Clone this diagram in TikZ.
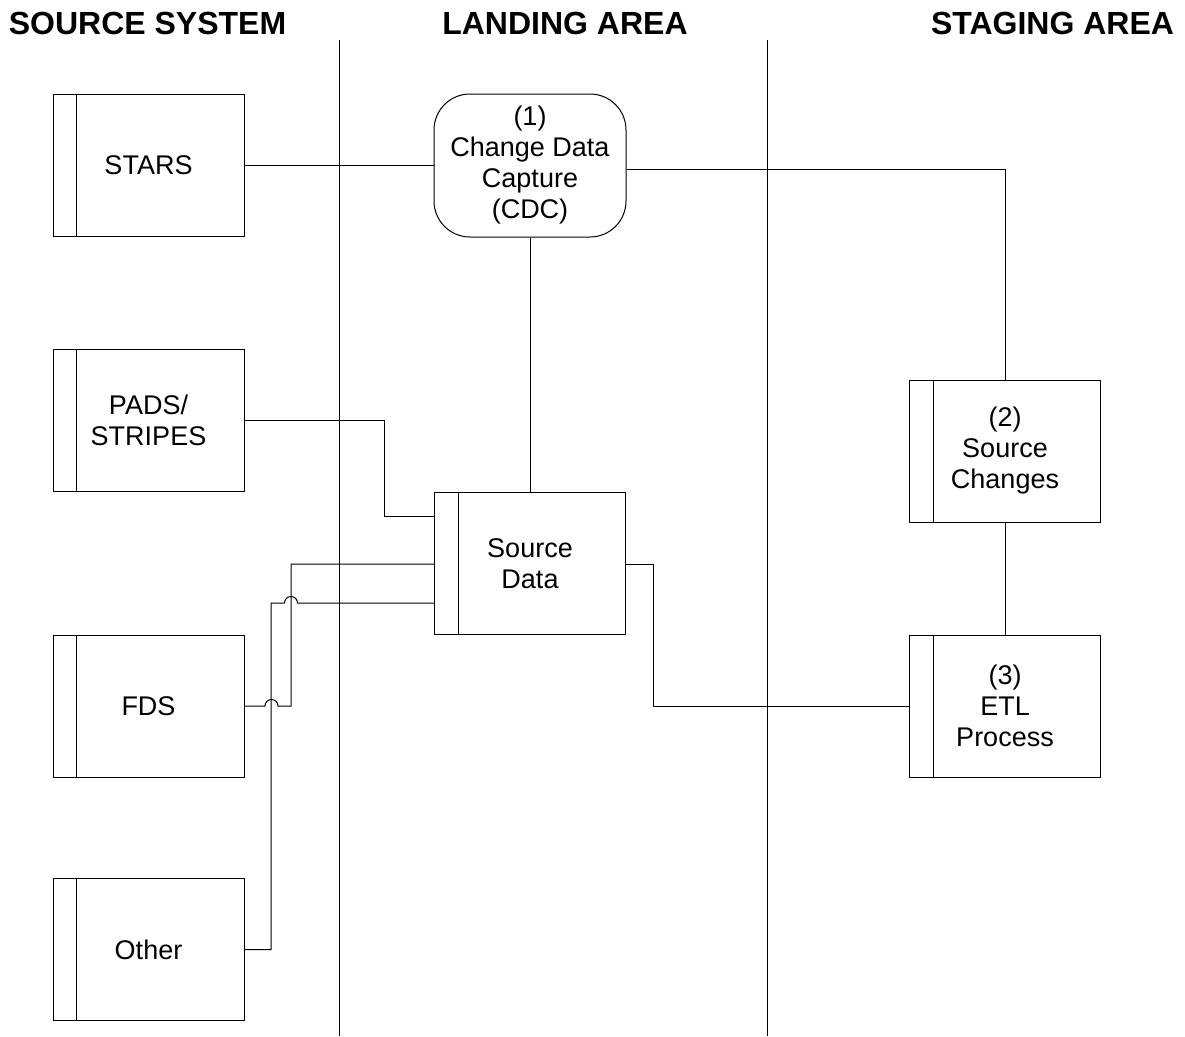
\documentclass[tikz,border=0pt]{standalone}
\usepackage{fontspec}
\setmainfont{Liberation Sans}
\begin{document}
\begin{tikzpicture}[x=1pt,y=-1pt,line width=1pt,
  lbl/.style={font=\fontsize{27}{31}\selectfont, align=center},
  proc/.style={lbl, draw, minimum width=191pt, minimum height=142pt, inner sep=0pt,
    path picture={\draw[line width=1pt] ([xshift=23.5pt]path picture bounding box.north west) -- ([xshift=23.5pt]path picture bounding box.south west);}},
  cdcbox/.style={lbl, draw, rounded corners=36pt, minimum width=192pt, minimum height=143pt, inner sep=0pt},
  hdr/.style={font=\fontsize{32}{36}\bfseries\selectfont, inner sep=0pt},
  conn/.style={line width=1pt}]
\path[use as bounding box] (0,0) rectangle (1185,1036);
% headers
\node[hdr] (h1) at (147.5,23) {SOURCE SYSTEM};
\node[hdr] (h2) at (565,23) {LANDING AREA};
\node[hdr] (h3) at (1052.5,23) {STAGING AREA};
% lane lines
\coordinate (l1t) at (339,40); \coordinate (l1b) at (339,1036);
\coordinate (l2t) at (767,40); \coordinate (l2b) at (767,1036);
\draw[conn] (l1t) -- (l1b);
\draw[conn] (l2t) -- (l2b);
% nodes
\node[proc] (stars) at (148.5,165.5) {STARS};
\node[proc] (pads) at (148.5,420.5) {PADS/\\STRIPES};
\node[proc] (fds) at (148.5,706) {FDS};
\node[proc] (other) at (148.5,949.5) {Other};
\node[cdcbox] (cdc) at (530,165.5) {(1)\\Change Data\\Capture\\(CDC)};
\node[proc] (sd) at (530,563.5) {Source\\Data};
\node[proc] (sc) at (1005,451) {(2)\\Source\\Changes};
\node[proc] (etl) at (1005,706) {(3)\\ETL\\Process};
% connectors
\draw[conn] (stars.east) -- (cdc.west |- stars.east);
\draw[conn] (cdc.east |- 0,169) -| (sc.north);
\draw[conn] (cdc.south) -- (sd.north);
\draw[conn] (pads.east) -- (384,420.5) |- (sd.west |- 0,516);
\draw[conn] (fds.east) -- (265,706) arc (180:0:6.5pt) -- (291,706) |- (sd.west |- 0,564);
\draw[conn] (other.east) -- (271,949.5) -- (271,603) -- (284.5,603) arc (180:0:6.5pt) -- (sd.west |- 0,603);
\draw[conn] (sd.east |- 0,564) -- (653,564) |- (etl.west);
\draw[conn] (sc.south) -- (etl.north);
\end{tikzpicture}
\end{document}
